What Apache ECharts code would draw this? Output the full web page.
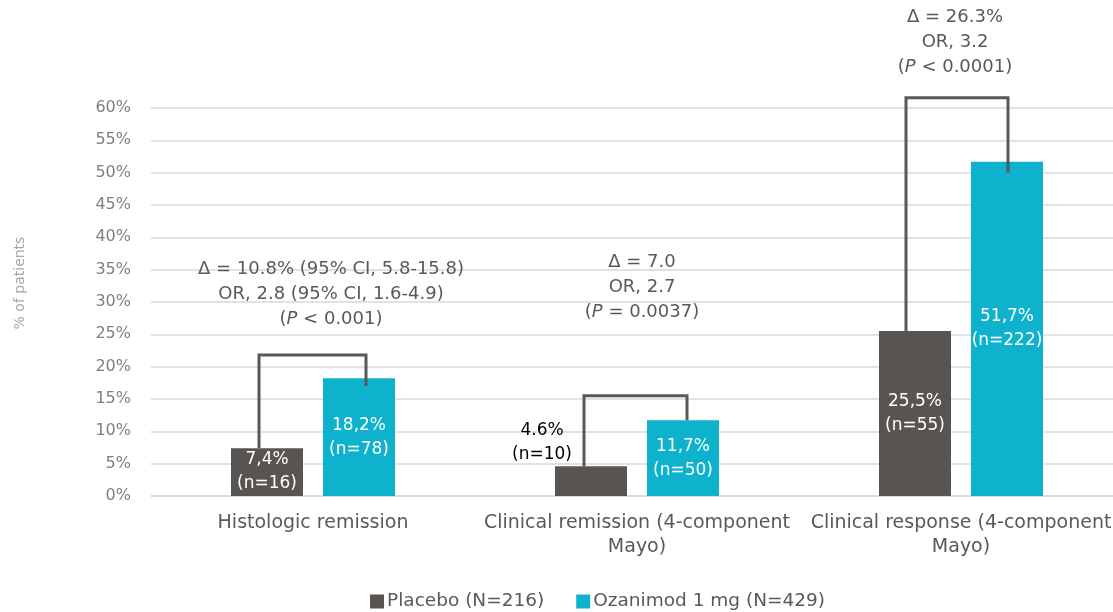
<!DOCTYPE html>
<html>
<head>
<meta charset="utf-8">
<script src="https://cdn.jsdelivr.net/npm/echarts@6/dist/echarts.min.js"></script>
<style>
  html, body { margin: 0; padding: 0; background: #fff; overflow: hidden; }
  #chart { width: 1123px; height: 612px; }
</style>
</head>
<body>
<div id="chart"></div>
<script>
// Endpoints and values (% of patients)
const categories = [
  'Histologic remission',
  'Clinical remission (4-component\nMayo)',
  'Clinical response (4-component\nMayo)'
];
const placebo = [7.4, 4.6, 25.5];
const ozanimod = [18.2, 11.7, 51.7];
const placeboText = ['7,4%\n(n=16)', '4.6%\n(n=10)', '25,5%\n(n=55)'];
const ozanimodText = ['18,2%\n(n=78)', '11,7%\n(n=50)', '51,7%\n(n=222)'];
const seriesNames = ['Placebo (N=216)', 'Ozanimod 1 mg (N=429)'];
const yTicks = [0, 5, 10, 15, 20, 25, 30, 35, 40, 45, 50, 55, 60];
const yTitle = '% of patients';

// Comparison brackets: top level and where the right leg stops (%)
const bracketTop = [21.8, 15.5, 61.6];
const bracketRightEnd = [17.0, 11.7, 50.0];
const notes = [
  'Δ = 10.8% (95% CI, 5.8-15.8)\nOR, 2.8 (95% CI, 1.6-4.9)\n({i|P} < 0.001)',
  'Δ = 7.0\nOR, 2.7\n({i|P} = 0.0037)',
  'Δ = 26.3%\nOR, 3.2\n({i|P} < 0.0001)'
];
const noteLevel = [25.4, 26.4, 64.3];

// Layout / style constants
const FONT = 'DejaVu Sans';
const DARK = '#595959';
const BAR_W = 72;
const BAR_GAP = 20;
const noteShift = [18, 5, -6];
const legLeftShift = [-8, -7, -9];
const legRightShift = [7, 4, 1];

const chart = echarts.init(document.getElementById('chart'), null, { renderer: 'canvas' });

const placeboData = placebo.map((v, i) => {
  if (i === 1) {
    return {
      value: v,
      label: { position: [-13, -24], color: '#000', align: 'center', verticalAlign: 'middle' }
    };
  }
  return v;
});

const bracketData = categories.map((_, i) => [i, bracketTop[i], placebo[i], bracketRightEnd[i]]);

chart.setOption({
  animation: false,
  textStyle: { fontFamily: FONT },
  grid: { left: 151, right: 0, top: 108, bottom: 116, containLabel: false },
  graphic: [
    {
      type: 'text',
      x: 20,
      y: 283,
      rotation: Math.PI / 2,
      style: {
        text: yTitle,
        fill: '#a6a6a6',
        fontFamily: FONT,
        fontSize: 14,
        align: 'center',
        verticalAlign: 'middle'
      }
    }
  ],
  legend: {
    data: seriesNames,
    top: 592,
    left: 370,
    padding: 0,
    icon: 'rect',
    itemWidth: 14,
    itemHeight: 14,
    itemGap: 32,
    textStyle: { fontFamily: FONT, fontSize: 18.5, color: DARK, padding: [0, 0, 0, -2] }
  },
  xAxis: {
    type: 'category',
    data: categories,
    axisLine: { lineStyle: { color: '#d9d9d9', width: 1.5 } },
    axisTick: { show: false },
    axisLabel: {
      interval: 0,
      color: DARK,
      fontFamily: FONT,
      fontSize: 19,
      lineHeight: 24,
      margin: 15,
      align: 'center'
    }
  },
  yAxis: {
    type: 'value',
    min: yTicks[0],
    max: yTicks[yTicks.length - 1],
    interval: yTicks[1] - yTicks[0],
    axisLine: { show: false },
    axisTick: { show: false },
    axisLabel: { color: '#7f7f7f', fontFamily: FONT, fontSize: 16, margin: 20, formatter: '{value}%' },
    splitLine: { lineStyle: { color: '#d9d9d9', width: 1.5 } }
  },
  series: [
    {
      name: seriesNames[0],
      type: 'bar',
      data: placeboData,
      barWidth: BAR_W,
      barGap: (BAR_GAP / BAR_W * 100) + '%',
      itemStyle: { color: '#585452' },
      label: {
        show: true,
        position: 'inside',
        color: '#fff',
        fontFamily: FONT,
        fontSize: 17,
        lineHeight: 24,
        formatter: p => placeboText[p.dataIndex]
      }
    },
    {
      name: seriesNames[1],
      type: 'bar',
      data: ozanimod,
      barWidth: BAR_W,
      itemStyle: { color: '#0FB2CC' },
      label: {
        show: true,
        position: 'inside',
        color: '#fff',
        fontFamily: FONT,
        fontSize: 17,
        lineHeight: 24,
        formatter: p => ozanimodText[p.dataIndex]
      }
    },
    {
      type: 'custom',
      clip: false,
      silent: true,
      z: 5,
      data: bracketData,
      encode: { x: 0, y: 1 },
      renderItem: (params, api) => {
        const i = api.value(0);
        const cx = api.coord([i, 0])[0];
        const yTop = api.coord([i, api.value(1)])[1];
        const yL = api.coord([i, api.value(2)])[1];
        const yR = api.coord([i, api.value(3)])[1];
        const half = (BAR_W + BAR_GAP) / 2;
        const xl = cx - half + legLeftShift[i];
        const xr = cx + half + legRightShift[i];
        const yNote = api.coord([i, noteLevel[i]])[1];
        return {
          type: 'group',
          children: [
            {
              type: 'polyline',
              shape: { points: [[xl, yL], [xl, yTop], [xr, yTop], [xr, yR]] },
              style: { stroke: DARK, lineWidth: 3, fill: null, lineJoin: 'miter' }
            },
            {
              type: 'text',
              x: cx + noteShift[i],
              y: yNote,
              style: {
                text: notes[i],
                fill: DARK,
                fontFamily: FONT,
                fontSize: 18,
                lineHeight: 25,
                align: 'center',
                verticalAlign: 'bottom',
                rich: {
                  i: { fontStyle: 'italic', fontFamily: FONT, fontSize: 18, lineHeight: 25, fill: DARK }
                }
              }
            }
          ]
        };
      }
    }
  ]
});
</script>
</body>
</html>
